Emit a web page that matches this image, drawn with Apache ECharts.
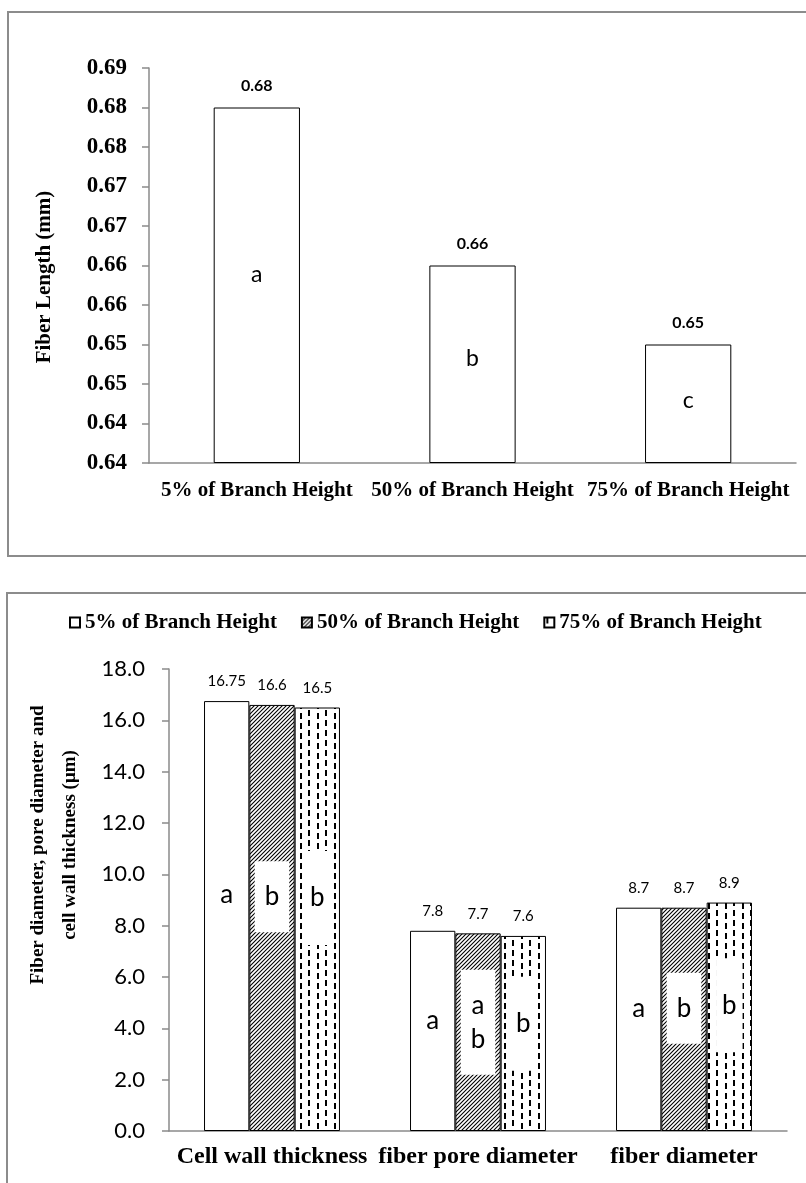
<!DOCTYPE html>
<html>
<head>
<meta charset="utf-8">
<script src="https://cdn.jsdelivr.net/npm/echarts@6/dist/echarts.min.js"></script>
<style>
  html, body { margin: 0; padding: 0; background: #fff; }
  #wrap { position: relative; width: 806px; height: 1183px; overflow: hidden; }
  .frame { position: absolute; border: 2px solid #8c8c8c; box-sizing: border-box; }
  #chart { position: absolute; left: 0; top: 0; width: 806px; height: 1183px; }
</style>
</head>
<body>
<div id="wrap">
  <div class="frame" style="left:7px;top:11px;width:900px;height:546px"></div>
  <div class="frame" style="left:6px;top:592px;width:900px;height:700px"></div>
  <div id="chart"></div>
</div>
<script>
// top chart: fiber length along the branch
const heights = ['5% of Branch Height', '50% of Branch Height', '75% of Branch Height']
const fiberLength = [0.685, 0.665, 0.655]
const lengthLetters = ['a', 'b', 'c']
const lengthMin = 0.64, lengthMax = 0.69, lengthStep = 0.005

// bottom chart: cell wall / pore / fiber diameter
const traits = ['Cell wall thickness', 'fiber pore diameter', 'fiber diameter']
const h5 = [16.75, 7.8, 8.7]
const h50 = [16.6, 7.7, 8.7]
const h75 = [16.5, 7.6, 8.9]
const letters5 = ['a', 'a', 'a']
const letters50 = ['b', 'a\nb', 'b']
const letters75 = ['b', 'b', 'b']
const sizeMin = 0, sizeMax = 18, sizeStep = 2

const serif = 'Liberation Serif'
const sans = 'Lato'
const axisGray = '#8a8a8a'

// 2 位小数截断（图里 0.685 显示成 0.68）
const trunc2 = v => (Math.floor(v * 100 + 1e-6) / 100).toFixed(2)

function hatchPattern () {
  const c = document.createElement('canvas')
  c.width = 4; c.height = 4
  const g = c.getContext('2d')
  g.fillStyle = '#fff'; g.fillRect(0, 0, 4, 4)
  g.strokeStyle = '#000'; g.lineWidth = 1.1
  g.beginPath()
  g.moveTo(0, 4); g.lineTo(4, 0)
  g.moveTo(-1, 1); g.lineTo(1, -1)
  g.moveTo(3, 5); g.lineTo(5, 3)
  g.stroke()
  return c
}

function dashPattern () {
  const c = document.createElement('canvas')
  c.width = 17; c.height = 10
  const g = c.getContext('2d')
  g.fillStyle = '#fff'; g.fillRect(0, 0, 17, 10)
  g.fillStyle = '#000'
  g.fillRect(2, 0, 2, 6)
  g.fillRect(11, 3, 2, 6)
  return c
}

const hatch = { image: hatchPattern(), repeat: 'repeat' }
const dashes = { image: dashPattern(), repeat: 'repeat' }

const letterLabel = (list, boxed, pad) => ({
  show: true,
  position: ['50%', '45%'],
  align: 'center',
  verticalAlign: 'middle',
  formatter: p => list[p.dataIndex],
  fontFamily: sans,
  fontSize: 26,
  lineHeight: 34,
  color: '#000',
  backgroundColor: boxed ? '#fff' : 'transparent',
  padding: pad
})

const valueLabel = {
  show: true,
  position: 'top',
  distance: 12,
  fontFamily: sans,
  fontSize: 15,
  color: '#000'
}

const catAxis = (grid, data, fontSize, margin) => ({
  type: 'category',
  gridIndex: grid,
  data,
  axisLine: { lineStyle: { color: axisGray, width: 1.5 } },
  axisTick: { length: 6, lineStyle: { color: axisGray, width: 1.5 } },
  axisLabel: { interval: 0, fontFamily: serif, fontWeight: 'bold', fontSize, color: '#000', margin }
})

const hiddenAxis = (grid, data) => ({ type: 'category', gridIndex: grid, data, show: false })

const chart = echarts.init(document.getElementById('chart'), null, { renderer: 'canvas' })

const option = {
  animation: false,
  grid: [
    { left: 149, top: 68, width: 647, height: 395 },
    { left: 169, top: 669, width: 618, height: 462 }
  ],
  legend: {
    data: heights,
    left: 64,
    top: 607,
    icon: 'rect',
    itemWidth: 10,
    itemHeight: 10,
    itemGap: 24,
    textStyle: { fontFamily: serif, fontWeight: 'bold', fontSize: 21, color: '#000' }
  },
  xAxis: [
    catAxis(0, heights, 21, 17),
    hiddenAxis(0, heights),
    catAxis(1, traits, 24, 14),
    hiddenAxis(1, traits)
  ],
  yAxis: [
    {
      type: 'value', gridIndex: 0,
      min: lengthMin, max: lengthMax, interval: lengthStep, startValue: lengthMin,
      splitLine: { show: false },
      axisLine: { show: true, lineStyle: { color: axisGray, width: 1.5 } },
      axisTick: { show: true, length: 7, lineStyle: { color: axisGray, width: 1.5 } },
      axisLabel: { formatter: trunc2, fontFamily: serif, fontWeight: 'bold', fontSize: 23, color: '#000', margin: 22 }
    },
    {
      type: 'value', gridIndex: 1,
      min: sizeMin, max: sizeMax, interval: sizeStep,
      splitLine: { show: false },
      axisLine: { show: true, lineStyle: { color: axisGray, width: 1.5 } },
      axisTick: { show: true, length: 7, lineStyle: { color: axisGray, width: 1.5 } },
      axisLabel: { formatter: v => v.toFixed(1), fontFamily: sans, fontSize: 22, color: '#000', margin: 24 }
    }
  ],
  graphic: [
    {
      type: 'text', x: 45, y: 277, rotation: Math.PI / 2,
      style: { text: 'Fiber Length (mm)', fontFamily: serif, fontWeight: 'bold', fontSize: 21, fill: '#000', align: 'center', verticalAlign: 'middle' }
    },
    {
      type: 'text', x: 54, y: 845, rotation: Math.PI / 2,
      style: { text: 'Fiber diameter, pore diameter and\ncell wall thickness (μm)', fontFamily: serif, fontWeight: 'bold', fontSize: 19, lineHeight: 32, fill: '#000', align: 'center', verticalAlign: 'middle' }
    }
  ],
  series: [
    {
      name: 'Fiber Length', type: 'bar', xAxisIndex: 0, yAxisIndex: 0,
      data: fiberLength, barCategoryGap: '60%',
      itemStyle: { color: '#fff', borderColor: '#000', borderWidth: 1 },
      label: { ...letterLabel(lengthLetters, false, 0), fontSize: 23, position: ['50%', '47%'] }
    },
    {
      name: 'Fiber Length value', type: 'bar', xAxisIndex: 1, yAxisIndex: 0,
      data: fiberLength, barCategoryGap: '60%',
      itemStyle: { color: 'rgba(0,0,0,0)' },
      label: { ...valueLabel, fontWeight: 'bold', fontSize: 16, distance: 14, formatter: p => trunc2(p.value) }
    },
    {
      name: heights[0], type: 'bar', xAxisIndex: 2, yAxisIndex: 1,
      data: h5, barGap: 0, barCategoryGap: '34%',
      itemStyle: { color: '#fff', borderColor: '#000', borderWidth: 1 },
      label: letterLabel(letters5, false, 0)
    },
    {
      name: heights[1], type: 'bar', xAxisIndex: 2, yAxisIndex: 1,
      data: h50, barGap: 0, barCategoryGap: '34%',
      itemStyle: { color: hatch, borderColor: '#000', borderWidth: 1 },
      label: letterLabel(letters50, true, [17, 10, 20, 10])
    },
    {
      name: heights[2], type: 'bar', xAxisIndex: 2, yAxisIndex: 1,
      data: h75, barGap: 0, barCategoryGap: '34%',
      itemStyle: { color: dashes, borderColor: '#000', borderWidth: 1 },
      label: letterLabel(letters75, true, [24, 6, 36, 6])
    },
    { name: 'v5', type: 'bar', xAxisIndex: 3, yAxisIndex: 1, data: h5, barGap: 0, barCategoryGap: '34%', itemStyle: { color: 'rgba(0,0,0,0)' }, label: valueLabel },
    { name: 'v50', type: 'bar', xAxisIndex: 3, yAxisIndex: 1, data: h50, barGap: 0, barCategoryGap: '34%', itemStyle: { color: 'rgba(0,0,0,0)' }, label: valueLabel },
    { name: 'v75', type: 'bar', xAxisIndex: 3, yAxisIndex: 1, data: h75, barGap: 0, barCategoryGap: '34%', itemStyle: { color: 'rgba(0,0,0,0)' }, label: valueLabel }
  ]
}

chart.setOption(option)
</script>
</body>
</html>
